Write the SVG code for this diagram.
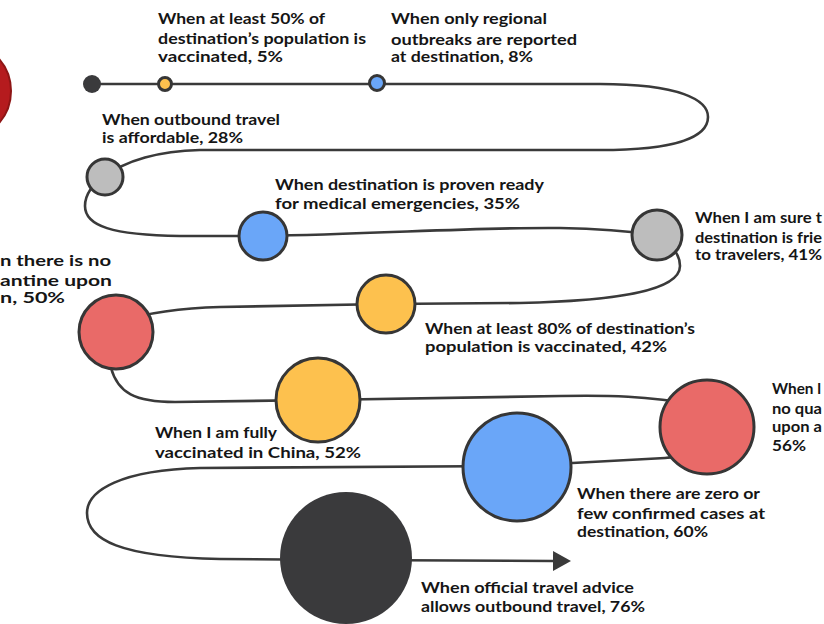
<svg xmlns="http://www.w3.org/2000/svg" width="824" height="624" viewBox="0 0 824 624">
<defs>
<marker id="arrow" markerUnits="userSpaceOnUse" markerWidth="20" markerHeight="22" refX="0" refY="10" orient="auto">
<polygon points="0,0 18,10 0,20" fill="#3a3a3a"/>
</marker>
<style>
.c{fill:none;stroke:#3a3a3a;stroke-width:2.6;stroke-linecap:round}
.n{stroke:#363636;stroke-width:3}
.y{fill:#FDC14E}.b{fill:#6AA6F8}.g{fill:#BDBDBD}.r{fill:#E96A68}.k{fill:#3A3A3C;stroke:none}
text{font-family:Lato,"Liberation Sans",Arial,sans-serif;font-weight:bold;font-size:15px;fill:#151515}
</style>
</defs>
<rect width="824" height="624" fill="#ffffff"/>
<g id="connectors">
<path class="c" d="M92,84 H600 C680,84 708,100 708,117 C708,136 680,150 600,150 H200 C160,151 125,160 105,177"/>
<path class="c" d="M105,177 C92,184 85,195 85,206 C85,226 112,235 180,236 L262,236 C380,234 480,227 560,228 C610,229 635,232 657,235"/>
<path class="c" d="M657,235 C672,244 680,255 680,266 C680,292 610,301 520,303 L386,304 L220,307 C180,308 150,312 116,322"/>
<path class="c" d="M116,332 C110,350 109,362 111,368 C118,393 135,402 175,402 L318,400 L560,396 C610,395 645,396 700,405"/>
<path class="c" d="M707,440 C690,453 680,457 665,458 L517,466 L200,468 C122,470 87,490 87,513 C87,540 120,557 220,559 L346,560 L553,561" marker-end="url(#arrow)"/>
</g>
<g id="n-start"><circle class="k" cx="-38" cy="91" r="49" style="fill:#B51B1E;stroke:#8e1515;stroke-width:2"/></g>
<g id="n-begin"><circle class="k" cx="92" cy="84" r="9"/></g>
<g id="n5"><circle class="n y" cx="165" cy="84" r="6.5"/>
<text x="158" y="24" textLength="167" lengthAdjust="spacingAndGlyphs">When at least 50% of</text>
<text x="158" y="44" textLength="208" lengthAdjust="spacingAndGlyphs">destination’s population is</text>
<text x="158" y="62" textLength="125" lengthAdjust="spacingAndGlyphs">vaccinated, 5%</text></g>
<g id="n8"><circle class="n b" cx="377" cy="83" r="7.5"/>
<text x="391" y="24" textLength="156" lengthAdjust="spacingAndGlyphs">When only regional</text>
<text x="391" y="45" textLength="186" lengthAdjust="spacingAndGlyphs">outbreaks are reported</text>
<text x="391" y="62" textLength="142" lengthAdjust="spacingAndGlyphs">at destination, 8%</text></g>
<g id="n28"><circle class="n g" cx="105" cy="177" r="18"/>
<text x="102" y="125" textLength="178" lengthAdjust="spacingAndGlyphs">When outbound travel</text>
<text x="102" y="143" textLength="141" lengthAdjust="spacingAndGlyphs">is affordable, 28%</text></g>
<g id="n35"><circle class="n b" cx="263" cy="236" r="24"/>
<text x="275" y="190" textLength="269" lengthAdjust="spacingAndGlyphs">When destination is proven ready</text>
<text x="275" y="209" textLength="245" lengthAdjust="spacingAndGlyphs">for medical emergencies, 35%</text></g>
<g id="n41"><circle class="n g" cx="657" cy="235" r="25"/>
<text x="695" y="223" textLength="127" lengthAdjust="spacingAndGlyphs">When I am sure t</text>
<text x="695" y="243" textLength="127" lengthAdjust="spacingAndGlyphs">destination is frie</text>
<text x="695" y="260" textLength="127" lengthAdjust="spacingAndGlyphs">to travelers, 41%</text></g>
<g id="n42"><circle class="n y" cx="386" cy="304" r="29"/>
<text x="425" y="334" textLength="270" lengthAdjust="spacingAndGlyphs">When at least 80% of destination’s</text>
<text x="425" y="352" textLength="242" lengthAdjust="spacingAndGlyphs">population is vaccinated, 42%</text></g>
<g id="n50"><circle class="n r" cx="116" cy="332" r="37"/>
<text x="0" y="266" textLength="111" lengthAdjust="spacingAndGlyphs">n there is no</text>
<text x="0" y="286" textLength="112" lengthAdjust="spacingAndGlyphs">antine upon</text>
<text x="0" y="303" textLength="65" lengthAdjust="spacingAndGlyphs">n, 50%</text></g>
<g id="n52"><circle class="n y" cx="318" cy="400" r="42"/>
<text x="155" y="438" textLength="122" lengthAdjust="spacingAndGlyphs">When I am fully</text>
<text x="155" y="458" textLength="206" lengthAdjust="spacingAndGlyphs">vaccinated in China, 52%</text></g>
<g id="n56"><circle class="n r" cx="707" cy="427" r="47"/>
<text x="772" y="394" textLength="49" lengthAdjust="spacingAndGlyphs">When l</text>
<text x="772" y="414" textLength="50" lengthAdjust="spacingAndGlyphs">no qua</text>
<text x="772" y="432" textLength="50" lengthAdjust="spacingAndGlyphs">upon a</text>
<text x="772" y="451" textLength="34" lengthAdjust="spacingAndGlyphs">56%</text></g>
<g id="n60"><circle class="n b" cx="517" cy="467" r="54"/>
<text x="577" y="499" textLength="183" lengthAdjust="spacingAndGlyphs">When there are zero or</text>
<text x="577" y="519" textLength="188" lengthAdjust="spacingAndGlyphs">few confirmed cases at</text>
<text x="577" y="537" textLength="131" lengthAdjust="spacingAndGlyphs">destination, 60%</text></g>
<g id="n76"><circle class="k" cx="346" cy="558" r="66"/>
<text x="421" y="593" textLength="213" lengthAdjust="spacingAndGlyphs">When official travel advice</text>
<text x="421" y="612" textLength="224" lengthAdjust="spacingAndGlyphs">allows outbound travel, 76%</text></g>
</svg>
